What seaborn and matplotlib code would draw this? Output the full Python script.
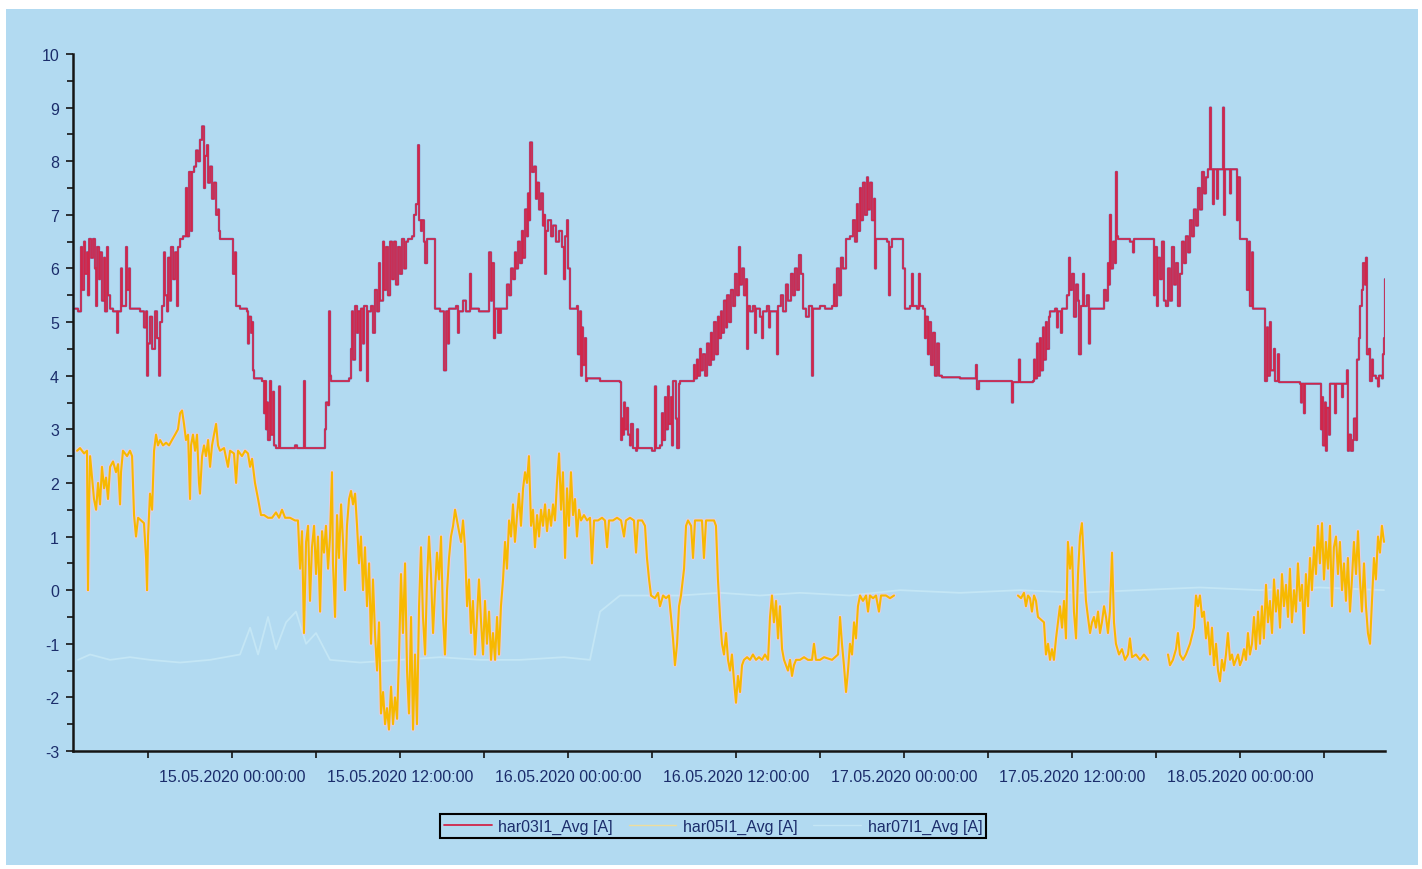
import pandas as pd
import matplotlib
matplotlib.use("Agg")
import matplotlib.pyplot as plt
import matplotlib.dates as mdates
import matplotlib.patheffects as pe
from matplotlib.lines import Line2D
from matplotlib.patches import Rectangle
from matplotlib.ticker import MultipleLocator
import seaborn as sns

# Time origin of the record; all time values below are hours after it
START = pd.Timestamp("2020-05-14 12:00:00")
X_FROM, X_TO = 0.64, 94.36
Y_FROM, Y_TO = -3, 10

series_names = ["har03I1_Avg [A]", "har05I1_Avg [A]", "har07I1_Avg [A]"]

# 3rd harmonic current, phase L1 (hours, A) - stepwise logger values
har03 = [
    (0.79, 5.25), (1.0, 5.2), (1.21, 6.4), (1.29, 5.6), (1.43, 6.5), (1.5, 5.9), (1.64, 6.3), (1.71, 5.5),
    (1.79, 6.55), (1.93, 6.2), (2.07, 6.55), (2.21, 6.0), (2.29, 5.3), (2.36, 6.4), (2.5, 5.8), (2.57, 6.3),
    (2.71, 5.4), (2.86, 6.2), (2.93, 5.2), (3.07, 6.4), (3.14, 5.5), (3.29, 5.25), (3.5, 5.2), (3.79, 4.8),
    (3.86, 5.2), (4.07, 6.0), (4.14, 5.3), (4.43, 6.4), (4.5, 5.6), (4.64, 6.0), (4.71, 5.25), (5.43, 5.2),
    (5.71, 4.9), (5.86, 5.2), (5.93, 4.0), (6.0, 4.6), (6.14, 5.1), (6.29, 4.5), (6.5, 5.2), (6.64, 4.7),
    (6.79, 4.0), (6.86, 5.0), (7.0, 5.3), (7.14, 6.3), (7.21, 5.5), (7.36, 5.2), (7.43, 6.2), (7.57, 5.4),
    (7.64, 6.4), (7.79, 5.8), (7.93, 6.3), (8.07, 5.3), (8.14, 6.4), (8.29, 6.55), (8.5, 6.6), (8.71, 7.5),
    (8.79, 6.6), (8.93, 7.8), (9.07, 6.7), (9.14, 7.8), (9.29, 7.9), (9.43, 8.2), (9.57, 8.0), (9.71, 8.4),
    (9.86, 8.65), (10.0, 7.5), (10.07, 8.1), (10.21, 8.3), (10.29, 7.6), (10.43, 7.9), (10.57, 7.3),
    (10.71, 7.6), (10.86, 7.0), (11.0, 7.1), (11.07, 6.7), (11.14, 6.55), (12.0, 6.55), (12.07, 5.9),
    (12.21, 6.3), (12.29, 5.3), (12.57, 5.25), (13.07, 5.2), (13.14, 4.6), (13.21, 5.1), (13.36, 4.8),
    (13.43, 5.0), (13.5, 4.1), (13.57, 3.95), (14.14, 3.9), (14.29, 3.3), (14.36, 3.9), (14.43, 3.0),
    (14.5, 3.5), (14.57, 2.8), (14.71, 3.9), (14.79, 2.9), (14.93, 3.7), (15.0, 2.7), (15.14, 2.65),
    (15.36, 3.8), (15.43, 2.65), (16.5, 2.7), (16.64, 2.65), (17.14, 3.9), (17.21, 2.65), (18.64, 3.0),
    (18.71, 3.5), (18.86, 3.45), (18.93, 5.2), (19.0, 4.0), (19.07, 3.9), (20.36, 3.95), (20.5, 4.5),
    (20.57, 5.2), (20.64, 4.3), (20.79, 5.3), (20.93, 4.8), (21.0, 5.2), (21.14, 4.1), (21.21, 5.25),
    (21.36, 4.6), (21.43, 5.3), (21.64, 3.9), (21.71, 5.2), (21.93, 5.3), (22.07, 4.8), (22.21, 5.6),
    (22.36, 5.2), (22.5, 6.1), (22.57, 5.4), (22.79, 6.5), (22.86, 5.6), (23.0, 6.4), (23.14, 5.5),
    (23.29, 6.5), (23.43, 5.8), (23.57, 6.5), (23.71, 5.7), (23.86, 6.4), (24.0, 5.9), (24.14, 6.55),
    (24.29, 6.0), (24.43, 6.5), (24.57, 6.55), (24.86, 6.6), (25.0, 7.0), (25.14, 7.2), (25.29, 8.3),
    (25.36, 6.9), (25.5, 6.7), (25.57, 6.9), (25.71, 6.5), (25.79, 6.1), (25.93, 6.55), (26.5, 5.25),
    (26.86, 5.2), (27.14, 4.1), (27.29, 5.2), (27.43, 4.6), (27.5, 5.25), (28.0, 5.3), (28.14, 4.8),
    (28.21, 5.2), (28.5, 5.4), (28.71, 5.2), (29.0, 5.9), (29.07, 5.25), (29.64, 5.2), (30.36, 6.3),
    (30.5, 5.4), (30.57, 6.1), (30.71, 4.7), (30.79, 5.25), (31.0, 4.8), (31.07, 5.25), (31.14, 4.8),
    (31.21, 5.25), (31.5, 5.25), (31.64, 5.7), (31.79, 5.5), (31.93, 6.0), (32.07, 5.8), (32.21, 6.3),
    (32.29, 6.0), (32.43, 6.5), (32.57, 6.1), (32.71, 6.7), (32.79, 6.2), (32.93, 7.1), (33.07, 6.6),
    (33.14, 7.4), (33.21, 6.9), (33.29, 8.35), (33.43, 7.8), (33.57, 7.9), (33.71, 7.3), (33.79, 7.6),
    (33.93, 7.1), (34.07, 7.4), (34.21, 6.8), (34.29, 7.0), (34.36, 5.9), (34.43, 6.7), (34.57, 6.9),
    (34.79, 6.6), (34.93, 6.8), (35.14, 6.5), (35.36, 6.7), (35.57, 6.4), (35.71, 5.8), (35.79, 6.6),
    (35.93, 6.9), (36.0, 6.0), (36.14, 5.25), (36.64, 5.3), (36.71, 4.4), (36.86, 5.2), (36.93, 4.0),
    (37.0, 4.9), (37.07, 4.2), (37.21, 4.7), (37.29, 3.9), (37.36, 3.95), (38.29, 3.9), (39.71, 3.88),
    (39.79, 2.8), (39.86, 3.2), (39.93, 2.9), (40.0, 3.5), (40.07, 3.0), (40.21, 3.4), (40.29, 2.9),
    (40.43, 2.7), (40.5, 3.1), (40.64, 2.65), (40.86, 2.6), (40.93, 3.0), (41.0, 2.65), (42.0, 2.6),
    (42.21, 3.8), (42.29, 2.65), (42.57, 2.7), (42.71, 3.3), (42.79, 2.8), (42.93, 3.6), (43.0, 3.0),
    (43.14, 3.8), (43.21, 3.1), (43.36, 3.6), (43.43, 2.7), (43.5, 3.9), (43.71, 3.2), (43.79, 2.65),
    (43.93, 3.85), (44.0, 3.9), (44.93, 3.9), (45.0, 4.2), (45.07, 3.95), (45.21, 4.3), (45.29, 4.0),
    (45.43, 4.5), (45.5, 4.1), (45.64, 4.4), (45.79, 4.0), (45.93, 4.6), (46.07, 4.2), (46.21, 4.8),
    (46.29, 4.3), (46.43, 5.0), (46.57, 4.4), (46.71, 5.1), (46.79, 4.7), (46.93, 5.2), (47.0, 4.8),
    (47.14, 5.4), (47.29, 4.9), (47.36, 5.5), (47.5, 5.0), (47.64, 5.6), (47.79, 5.3), (47.93, 5.9),
    (48.07, 5.5), (48.21, 6.4), (48.29, 5.7), (48.43, 6.0), (48.57, 5.5), (48.71, 5.8), (48.79, 4.5),
    (48.86, 5.3), (49.0, 5.2), (49.21, 5.3), (49.36, 4.8), (49.43, 5.25), (49.71, 5.1), (49.86, 4.7),
    (49.93, 5.2), (50.21, 5.3), (50.36, 4.9), (50.43, 5.2), (50.79, 5.2), (50.93, 4.4), (51.0, 5.3),
    (51.21, 5.5), (51.36, 5.2), (51.57, 5.7), (51.71, 5.4), (51.93, 5.9), (52.07, 5.5), (52.21, 6.0),
    (52.36, 5.6), (52.5, 6.25), (52.64, 5.9), (52.79, 5.25), (53.0, 5.1), (53.21, 5.3), (53.43, 4.0),
    (53.5, 5.25), (54.0, 5.3), (54.36, 5.25), (54.86, 5.3), (55.0, 5.7), (55.07, 5.3), (55.21, 6.0),
    (55.36, 5.5), (55.5, 6.2), (55.64, 6.0), (55.86, 6.55), (56.14, 6.6), (56.36, 6.9), (56.5, 6.5),
    (56.64, 7.2), (56.71, 6.7), (56.86, 7.5), (56.93, 6.9), (57.07, 7.6), (57.21, 7.0), (57.36, 7.7),
    (57.43, 7.1), (57.57, 7.6), (57.71, 6.9), (57.86, 7.3), (57.93, 6.0), (58.0, 6.55), (58.57, 6.55),
    (58.79, 6.5), (58.93, 5.5), (59.0, 6.4), (59.14, 6.55), (59.79, 6.55), (59.93, 6.0), (60.07, 5.25),
    (60.43, 5.3), (60.57, 5.9), (60.64, 5.3), (60.93, 5.25), (61.07, 5.9), (61.14, 5.3), (61.36, 5.25),
    (61.5, 4.7), (61.57, 5.1), (61.71, 4.4), (61.79, 5.0), (61.93, 4.2), (62.07, 4.8), (62.21, 4.0),
    (62.36, 4.6), (62.5, 4.0), (62.71, 3.97), (64.0, 3.95), (65.14, 4.2), (65.21, 3.75), (65.36, 3.9),
    (67.64, 3.9), (67.71, 3.5), (67.79, 3.88), (68.21, 4.3), (68.29, 3.88), (69.21, 3.9), (69.29, 4.3),
    (69.36, 3.95), (69.5, 4.6), (69.57, 4.0), (69.71, 4.7), (69.79, 4.1), (69.93, 4.9), (70.0, 4.3),
    (70.14, 5.0), (70.21, 4.5), (70.36, 5.1), (70.43, 5.2), (70.79, 5.25), (70.93, 4.9), (71.0, 5.2),
    (71.21, 4.8), (71.29, 5.25), (71.64, 5.5), (71.79, 6.2), (71.86, 5.6), (72.0, 5.9), (72.14, 5.1),
    (72.29, 5.7), (72.43, 5.4), (72.5, 4.4), (72.64, 5.3), (72.79, 5.9), (72.86, 5.3), (73.07, 5.5),
    (73.21, 4.6), (73.29, 5.25), (74.21, 5.25), (74.29, 5.6), (74.43, 5.4), (74.57, 6.1), (74.64, 5.7),
    (74.71, 7.0), (74.79, 6.0), (74.93, 6.5), (75.07, 6.1), (75.14, 7.8), (75.21, 6.6), (75.29, 6.55),
    (76.14, 6.5), (76.36, 6.3), (76.43, 6.55), (77.71, 6.55), (77.86, 5.5), (77.93, 6.4), (78.07, 5.3),
    (78.14, 6.2), (78.29, 5.8), (78.43, 6.5), (78.57, 5.4), (78.71, 5.3), (78.86, 6.0), (79.0, 5.4),
    (79.14, 6.4), (79.29, 5.7), (79.43, 6.1), (79.57, 5.3), (79.71, 5.9), (79.86, 6.5), (80.0, 6.1),
    (80.14, 6.6), (80.29, 6.3), (80.43, 6.9), (80.57, 6.6), (80.71, 7.1), (80.86, 6.8), (81.0, 7.5),
    (81.14, 7.1), (81.29, 7.8), (81.43, 7.4), (81.57, 7.7), (81.71, 7.85), (81.86, 9.0), (81.93, 7.85),
    (82.07, 7.2), (82.14, 7.85), (82.36, 7.3), (82.43, 7.85), (82.71, 7.85), (82.79, 9.0), (82.86, 7.0),
    (82.93, 7.85), (83.14, 7.85), (83.29, 7.4), (83.36, 7.85), (83.71, 7.85), (83.79, 6.9), (83.86, 7.7),
    (84.0, 6.55), (84.43, 6.55), (84.5, 5.6), (84.64, 6.5), (84.71, 5.3), (84.86, 6.3), (84.93, 5.25),
    (85.64, 5.25), (85.79, 3.9), (85.93, 4.9), (86.0, 4.0), (86.14, 5.0), (86.21, 4.1), (86.43, 4.5),
    (86.5, 3.9), (86.71, 4.4), (86.79, 3.88), (88.29, 3.85), (88.36, 3.5), (88.43, 3.85), (88.57, 3.3),
    (88.64, 3.85), (89.71, 3.85), (89.79, 3.0), (89.86, 3.6), (89.93, 2.7), (90.07, 3.5), (90.14, 2.6),
    (90.21, 3.4), (90.36, 2.9), (90.43, 3.85), (90.71, 3.85), (90.79, 3.3), (90.86, 3.85), (91.14, 3.85),
    (91.29, 3.6), (91.36, 3.85), (91.64, 4.1), (91.71, 2.6), (91.79, 2.9), (91.93, 2.6), (92.07, 2.8),
    (92.14, 3.2), (92.29, 2.8), (92.36, 4.3), (92.5, 4.7), (92.57, 5.3), (92.71, 5.6), (92.79, 6.1),
    (92.93, 5.7), (93.0, 6.2), (93.07, 4.4), (93.21, 4.5), (93.29, 3.9), (93.43, 4.3), (93.5, 4.0),
    (93.71, 3.95), (93.86, 3.8), (93.93, 4.0), (94.14, 3.95), (94.21, 4.4), (94.29, 4.7), (94.36, 5.8),
]

# 5th harmonic current, phase L1 (hours, A); the logger has no values in the gaps between parts
har05_first = [
    (0.93, 2.6), (1.14, 2.65), (1.43, 2.55), (1.64, 2.6), (1.71, 0.0), (1.79, 1.6), (1.86, 2.5), (2.0, 2.1),
    (2.14, 1.7), (2.29, 1.5), (2.43, 2.0), (2.57, 1.6), (2.71, 2.3), (2.86, 1.9), (3.0, 2.1), (3.14, 1.7),
    (3.29, 2.3), (3.5, 2.4), (3.71, 2.2), (3.86, 2.35), (4.0, 1.6), (4.07, 2.2), (4.21, 2.6), (4.5, 2.5),
    (4.71, 2.6), (4.86, 2.5), (5.0, 1.4), (5.14, 1.0), (5.29, 1.35), (5.5, 1.3), (5.71, 1.25), (5.86, 0.6),
    (5.93, 0.0), (6.0, 1.0), (6.14, 1.8), (6.29, 1.5), (6.43, 2.6), (6.57, 2.9), (6.71, 2.7), (6.86, 2.8),
    (7.07, 2.7), (7.29, 2.75), (7.5, 2.7), (7.71, 2.8), (7.93, 2.9), (8.14, 3.0), (8.29, 3.3), (8.43, 3.35),
    (8.57, 3.1), (8.71, 2.8), (8.86, 2.9), (9.0, 1.7), (9.07, 2.7), (9.21, 2.9), (9.36, 2.6), (9.5, 2.9),
    (9.64, 2.0), (9.71, 1.8), (9.86, 2.5), (10.0, 2.7), (10.14, 2.5), (10.29, 2.8), (10.43, 2.3),
    (10.57, 2.7), (10.71, 2.9), (10.86, 3.1), (11.0, 2.7), (11.14, 2.6), (11.43, 2.65), (11.71, 2.3),
    (11.86, 2.6), (12.14, 2.55), (12.29, 2.0), (12.43, 2.6), (12.71, 2.5), (12.93, 2.6), (13.14, 2.55),
    (13.29, 2.3), (13.43, 2.45), (13.64, 2.0), (13.86, 1.7), (14.07, 1.4), (14.29, 1.4), (14.57, 1.35),
    (14.86, 1.35), (15.14, 1.45), (15.36, 1.35), (15.57, 1.5), (15.79, 1.35), (16.14, 1.35), (16.5, 1.3),
    (16.71, 1.3), (16.86, 0.4), (17.0, 1.1), (17.14, -0.8), (17.29, 0.9), (17.43, 1.2), (17.57, -0.2),
    (17.71, 0.8), (17.86, 1.2), (18.0, 0.3), (18.14, 1.0), (18.29, -0.4), (18.43, 1.1), (18.57, 0.7),
    (18.71, 1.2), (18.86, 0.4), (19.0, 1.0), (19.14, 2.2), (19.21, 0.5), (19.36, -0.5), (19.5, 1.4),
    (19.64, 0.6), (19.79, 1.6), (19.93, 0.9), (20.07, 0.0), (20.21, 1.2), (20.36, 1.7), (20.5, 1.85),
    (20.64, 1.6), (20.79, 1.8), (20.93, 1.2), (21.07, 0.5), (21.21, 1.0), (21.36, 0.0), (21.5, 0.8),
    (21.64, -0.3), (21.79, 0.5), (21.93, -1.0), (22.07, 0.2), (22.21, -0.8), (22.36, -1.5), (22.5, -0.6),
    (22.64, -2.3), (22.79, -1.9), (22.93, -2.5), (23.07, -2.2), (23.21, -2.6), (23.36, -1.8), (23.5, -2.5),
    (23.64, -2.0), (23.79, -2.4), (23.93, -1.2), (24.07, 0.3), (24.21, -0.8), (24.36, 0.5), (24.5, -1.5),
    (24.64, -2.3), (24.79, -0.5), (24.93, -2.6), (25.07, -1.2), (25.21, -2.5), (25.36, -0.3), (25.5, 0.8),
    (25.64, -0.5), (25.79, -1.2), (25.93, 0.2), (26.07, 1.0), (26.21, 0.3), (26.36, -0.8), (26.5, 0.0),
    (26.64, 0.7), (26.79, 0.2), (26.93, 1.0), (27.07, -0.5), (27.21, -1.2), (27.36, 0.0), (27.5, 0.6),
    (27.64, 1.0), (27.79, 1.2), (27.93, 1.5), (28.07, 1.3), (28.21, 1.1), (28.36, 0.9), (28.5, 1.3),
    (28.64, 0.8), (28.79, -0.3), (28.93, 0.2), (29.07, -0.8), (29.21, -0.2), (29.36, -1.2), (29.5, -0.5),
    (29.64, 0.2), (29.79, -0.6), (29.93, -1.2), (30.07, -0.2), (30.21, -1.0), (30.36, -0.4), (30.5, -1.3),
    (30.64, -0.8), (30.79, -1.3), (30.93, -0.5), (31.07, -1.2), (31.21, -0.3), (31.36, 0.2), (31.5, 0.9),
    (31.64, 0.4), (31.79, 1.3), (31.93, 1.0), (32.07, 1.6), (32.21, 0.9), (32.36, 1.4), (32.5, 1.8),
    (32.64, 1.2), (32.79, 1.9), (32.93, 2.2), (33.07, 2.0), (33.21, 2.5), (33.36, 1.2), (33.5, 1.5),
    (33.64, 0.8), (33.79, 1.4), (33.93, 1.0), (34.07, 1.5), (34.21, 1.2), (34.36, 1.6), (34.5, 1.1),
    (34.64, 1.5), (34.79, 1.2), (34.93, 1.6), (35.07, 1.3), (35.21, 2.0), (35.36, 2.55), (35.5, 1.5),
    (35.64, 2.2), (35.79, 0.6), (35.93, 1.9), (36.07, 1.2), (36.21, 2.2), (36.36, 1.4), (36.5, 1.7),
    (36.64, 1.0), (36.79, 1.5), (36.93, 1.3), (37.14, 1.4), (37.36, 1.3), (37.57, 1.35), (37.71, 0.5),
    (37.86, 1.3), (38.14, 1.3), (38.43, 1.35), (38.64, 1.3), (38.79, 0.8), (38.93, 1.3), (39.21, 1.3),
    (39.5, 1.35), (39.79, 1.3), (40.0, 1.0), (40.14, 1.3), (40.43, 1.35), (40.71, 1.3), (40.86, 0.7),
    (41.0, 1.3), (41.29, 1.3), (41.5, 1.2), (41.64, 0.6), (41.79, 0.2), (41.93, -0.1), (42.21, -0.15),
    (42.43, -0.05), (42.57, -0.3), (42.79, -0.1), (43.0, -0.15), (43.21, -0.1), (43.36, -0.5), (43.5, -0.9),
    (43.64, -1.4), (43.79, -1.0), (43.93, -0.3), (44.07, -0.1), (44.29, 0.4), (44.43, 1.2), (44.57, 1.3),
    (44.79, 1.2), (44.93, 0.6), (45.07, 1.3), (45.36, 1.3), (45.57, 1.3), (45.71, 0.6), (45.86, 1.3),
    (46.14, 1.3), (46.43, 1.3), (46.57, 1.2), (46.71, 0.2), (46.86, -0.5), (47.0, -1.0), (47.14, -1.2),
    (47.29, -0.8), (47.43, -1.3), (47.57, -1.5), (47.71, -1.2), (47.86, -1.7), (48.0, -2.1), (48.14, -1.6),
    (48.29, -1.9), (48.43, -1.4), (48.57, -1.3), (48.79, -1.25), (49.0, -1.3), (49.21, -1.2), (49.43, -1.3),
    (49.64, -1.25), (49.86, -1.3), (50.07, -1.2), (50.29, -1.3), (50.43, -0.5), (50.57, -0.1), (50.71, -0.6),
    (50.86, -0.2), (51.0, -0.9), (51.14, -0.3), (51.29, -1.1), (51.43, -1.3), (51.57, -1.4), (51.71, -1.5),
    (51.86, -1.3), (52.0, -1.6), (52.14, -1.4), (52.29, -1.3), (52.57, -1.3), (52.86, -1.25), (53.14, -1.3),
    (53.43, -1.3), (53.57, -1.0), (53.71, -1.3), (54.0, -1.3), (54.29, -1.25), (54.86, -1.3), (55.29, -1.2),
    (55.43, -0.5), (55.57, -1.0), (55.71, -1.4), (55.86, -1.9), (56.0, -1.5), (56.14, -1.0), (56.29, -1.2),
    (56.43, -0.6), (56.57, -0.9), (56.71, -0.3), (56.86, -0.1), (57.07, -0.2), (57.29, -0.1), (57.43, -0.4),
    (57.57, -0.1), (57.79, -0.15), (58.0, -0.1), (58.21, -0.4), (58.36, -0.1), (58.71, -0.1), (59.0, -0.15),
    (59.29, -0.1),
]

har05_second = [
    (68.14, -0.1), (68.36, -0.15), (68.57, -0.05), (68.71, -0.3), (68.86, -0.1), (69.0, -0.15),
    (69.14, -0.4), (69.29, -0.1), (69.43, -0.2), (69.57, -0.5), (70.0, -0.6), (70.14, -1.2), (70.29, -1.0),
    (70.43, -1.3), (70.57, -1.1), (70.71, -1.3), (70.86, -0.9), (71.0, -0.6), (71.14, -0.3), (71.29, -0.7),
    (71.43, -0.2), (71.57, -0.9), (71.71, 0.9), (71.86, 0.4), (72.0, 0.8), (72.14, -0.4), (72.29, -0.9),
    (72.43, 0.3), (72.57, 1.0), (72.71, 1.25), (72.86, 0.5), (73.0, -0.2), (73.14, -0.5), (73.29, -0.8),
    (73.43, -0.6), (73.57, -0.5), (73.71, -0.7), (73.86, -0.4), (74.0, -0.8), (74.14, -0.6), (74.29, -0.3),
    (74.43, -0.5), (74.57, -0.8), (74.71, -0.4), (74.86, 0.7), (75.0, -0.6), (75.14, -1.0), (75.36, -1.2),
    (75.57, -1.1), (75.79, -1.3), (76.0, -1.2), (76.14, -0.9), (76.29, -1.25), (76.57, -1.2), (76.86, -1.3),
    (77.14, -1.2), (77.43, -1.3),
]

har05_third = [
    (78.86, -1.2), (79.0, -1.4), (79.21, -1.3), (79.43, -1.1), (79.57, -0.8), (79.71, -1.2), (79.93, -1.3),
    (80.14, -1.2), (80.43, -1.0), (80.71, -0.7), (80.86, -0.1), (81.0, -0.3), (81.14, -0.1), (81.29, -0.5),
    (81.43, -0.4), (81.57, -0.9), (81.71, -0.6), (81.86, -1.2), (82.0, -0.7), (82.14, -1.4), (82.29, -1.0),
    (82.43, -1.5), (82.57, -1.7), (82.71, -1.3), (82.86, -1.5), (83.0, -1.2), (83.14, -0.8), (83.29, -1.3),
    (83.43, -1.2), (83.57, -1.4), (83.71, -1.3), (83.86, -1.2), (84.0, -1.4), (84.14, -1.3), (84.29, -1.1),
    (84.43, -1.3), (84.57, -0.8), (84.71, -1.2), (84.86, -1.0), (85.0, -0.5), (85.14, -1.1), (85.29, -0.4),
    (85.43, -1.0), (85.57, -0.3), (85.71, -0.9), (85.86, 0.1), (86.0, -0.6), (86.14, -0.2), (86.29, -0.8),
    (86.43, 0.2), (86.57, -0.4), (86.71, 0.0), (86.86, -0.7), (87.0, 0.3), (87.14, -0.3), (87.29, 0.1),
    (87.43, -0.5), (87.57, 0.4), (87.71, -0.6), (87.86, 0.0), (88.0, -0.4), (88.14, 0.5), (88.29, -0.2),
    (88.43, 0.1), (88.57, -0.8), (88.71, 0.3), (88.86, -0.3), (89.0, 0.6), (89.14, 0.0), (89.29, 0.8),
    (89.43, 0.3), (89.57, 1.2), (89.71, 0.5), (89.86, 1.25), (90.0, 0.2), (90.14, 0.9), (90.29, 0.4),
    (90.43, 1.2), (90.57, -0.3), (90.71, 0.8), (90.86, 1.0), (91.0, 0.3), (91.14, 0.9), (91.29, 0.0),
    (91.43, 0.5), (91.57, -0.2), (91.71, 0.6), (91.86, -0.4), (92.0, 0.2), (92.14, 0.9), (92.29, 0.3),
    (92.43, 1.1), (92.57, 0.2), (92.71, -0.4), (92.86, 0.5), (93.0, -0.3), (93.14, -0.8), (93.29, -1.0),
    (93.43, -0.2), (93.57, 0.6), (93.71, 0.2), (93.86, 1.0), (94.0, 0.7), (94.14, 1.2), (94.29, 0.9),
]

# 7th harmonic current, phase L1 (hours, A)
har07 = [
    (1.0, -1.3), (1.86, -1.2), (3.29, -1.3), (4.71, -1.25), (6.14, -1.3), (8.29, -1.35), (10.43, -1.3),
    (12.57, -1.2), (13.29, -0.7), (13.86, -1.2), (14.57, -0.5), (15.14, -1.1), (15.86, -0.6), (16.57, -0.4),
    (17.29, -1.0), (18.0, -0.8), (19.0, -1.3), (21.14, -1.35), (24.0, -1.3), (26.86, -1.25), (29.71, -1.3),
    (32.57, -1.3), (35.71, -1.25), (37.57, -1.3), (38.29, -0.4), (39.71, -0.1), (44.0, -0.1), (46.86, -0.05),
    (49.71, -0.1), (52.57, -0.05), (56.14, -0.1), (59.71, 0.0), (64.0, -0.05), (68.29, 0.0), (72.43, -0.05),
    (76.71, 0.0), (81.14, 0.05), (85.43, 0.0), (89.71, 0.05), (94.29, 0.0),
]

BG = "#b2daf1"
TEXT = "#1b2d6b"
RED, RED_EDGE = "#d1264a", "#4a3190"
YELLOW, YELLOW_EDGE = "#f7b900", "#efcadf"
FAINT = "#c4e6f5"


def frame(points, part=0):
    hours, values = zip(*points)
    return pd.DataFrame({
        "time": START + pd.to_timedelta(list(hours), unit="h"),
        "value": list(values),
        "part": part,
    })


df03 = frame(har03)
df05 = pd.concat([frame(har05_first, 0), frame(har05_second, 1), frame(har05_third, 2)], ignore_index=True)
df07 = frame(har07)

sns.set_theme(style="ticks")
plt.rcParams["font.family"] = ["Liberation Sans", "DejaVu Sans"]
plt.rcParams["font.size"] = 11.5
plt.rcParams["axes.unicode_minus"] = False

fig = plt.figure(figsize=(14.22, 8.70), dpi=100, facecolor="white")
fig.add_artist(Rectangle((6 / 1422, 4 / 870), 1412 / 1422, 856 / 870, transform=fig.transFigure,
                         facecolor=BG, edgecolor="none", zorder=-10))
ax = fig.add_axes([73 / 1422, 118 / 870, 1312 / 1422, 697 / 870])
ax.set_facecolor("none")

sns.lineplot(data=df07, x="time", y="value", ax=ax, color=FAINT, lw=1.3,
             estimator=None, sort=False, legend=False)
sns.lineplot(data=df05, x="time", y="value", units="part", ax=ax, color=YELLOW, lw=1.5,
             estimator=None, sort=False, legend=False,
             path_effects=[pe.Stroke(linewidth=3.0, foreground=YELLOW_EDGE, alpha=0.8), pe.Normal()])
sns.lineplot(data=df03, x="time", y="value", ax=ax, color=RED, lw=1.2, drawstyle="steps-post",
             estimator=None, sort=False, legend=False,
             path_effects=[pe.Stroke(linewidth=1.7, foreground=RED_EDGE, alpha=0.55), pe.Normal()])

ax.set_xlim(START + pd.Timedelta(hours=X_FROM), START + pd.Timedelta(hours=X_TO))
ax.set_ylim(Y_FROM, Y_TO)
ax.set_xlabel("")
ax.set_ylabel("")

ax.xaxis.set_major_locator(mdates.HourLocator(byhour=[0, 12]))
ax.xaxis.set_minor_locator(mdates.HourLocator(byhour=[6, 18]))
ax.xaxis.set_major_formatter(mdates.DateFormatter("%d.%m.%Y %H:%M:%S"))
ax.yaxis.set_major_locator(MultipleLocator(1))
ax.yaxis.set_minor_locator(MultipleLocator(0.5))

for side in ("top", "right"):
    ax.spines[side].set_visible(False)
for side in ("left", "bottom"):
    ax.spines[side].set_color("#151515")
    ax.spines[side].set_linewidth(1.8)

ax.tick_params(axis="both", which="both", direction="out", colors="#151515", labelcolor=TEXT,
               width=1.2, labelsize=11.5)
ax.tick_params(axis="x", which="both", length=5, pad=8)
ax.tick_params(axis="y", which="major", length=5, pad=5)
ax.tick_params(axis="y", which="minor", length=4)

handles = [
    Line2D([], [], color=RED, lw=1.3),
    Line2D([], [], color="#eedd9c", lw=1.0),
    Line2D([], [], color=FAINT, lw=1.0),
]
leg = ax.legend(handles, series_names, loc="center", bbox_to_anchor=(713 / 1422, 43 / 870),
                bbox_transform=fig.transFigure, ncol=3, frameon=True, fancybox=False,
                edgecolor="black", facecolor=BG, framealpha=1, labelcolor=TEXT,
                handlelength=3.0, handletextpad=0.4, columnspacing=1.0, borderpad=0.25,
                fontsize=11.5)
leg.get_frame().set_linewidth(1.5)

fig.savefig("out.png", dpi=100, facecolor=fig.get_facecolor())
